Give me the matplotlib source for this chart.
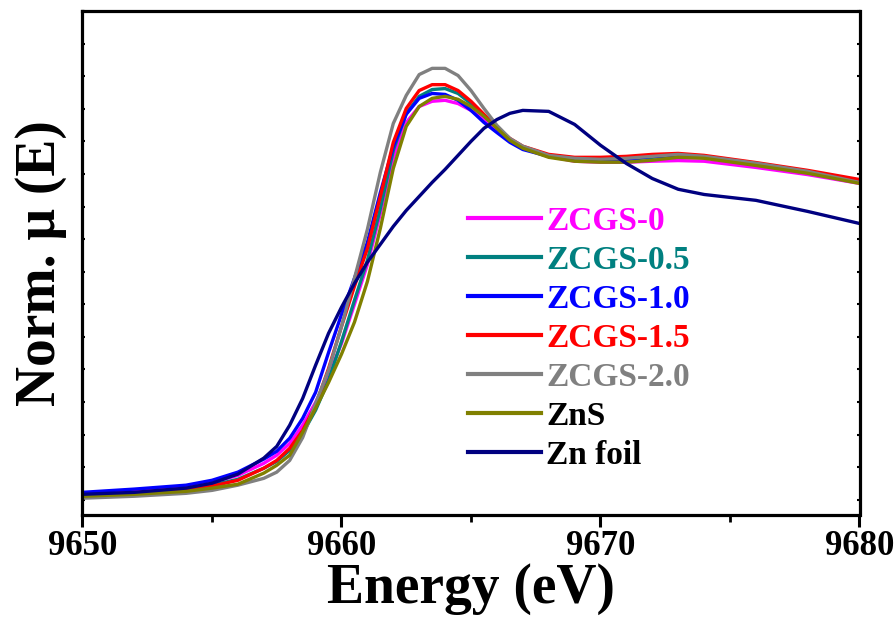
import matplotlib
matplotlib.use("Agg")
import matplotlib.pyplot as plt
from matplotlib.ticker import MultipleLocator, NullFormatter

plt.rcParams['font.family'] = ['Liberation Serif', 'DejaVu Serif']
plt.rcParams['font.weight'] = 'bold'

energy = [9650, 9652, 9654, 9655, 9656, 9657, 9657.5, 9658, 9658.5, 9659, 9659.5,
          9660, 9660.5, 9661, 9661.5, 9662, 9662.5, 9663, 9663.5, 9664, 9664.5,
          9665, 9665.5, 9666, 9666.5, 9667, 9668, 9669, 9670, 9671, 9672, 9673,
          9674, 9676, 9678, 9680]

zcgs_0 = [0.020, 0.029, 0.042, 0.054, 0.075, 0.112, 0.137, 0.173, 0.229, 0.299, 0.382,
          0.480, 0.600, 0.722, 0.879, 1.048, 1.158, 1.207, 1.223, 1.226, 1.216,
          1.195, 1.167, 1.137, 1.103, 1.079, 1.054, 1.039, 1.036, 1.036, 1.039, 1.041,
          1.039, 1.020, 0.998, 0.971]
zcgs_05 = [0.014, 0.020, 0.033, 0.045, 0.063, 0.097, 0.118, 0.152, 0.204, 0.275, 0.367,
           0.486, 0.612, 0.735, 0.894, 1.072, 1.186, 1.238, 1.259, 1.262, 1.247,
           1.216, 1.179, 1.143, 1.106, 1.082, 1.057, 1.045, 1.041, 1.045, 1.051, 1.057,
           1.051, 1.029, 1.005, 0.974]
zcgs_10 = [0.023, 0.033, 0.045, 0.060, 0.085, 0.125, 0.149, 0.189, 0.250, 0.330, 0.452,
           0.569, 0.680, 0.790, 0.943, 1.084, 1.183, 1.232, 1.247, 1.244, 1.226,
           1.195, 1.158, 1.127, 1.097, 1.075, 1.054, 1.045, 1.041, 1.045, 1.054, 1.057,
           1.051, 1.029, 1.008, 0.980]
zcgs_15 = [0.008, 0.017, 0.029, 0.042, 0.060, 0.097, 0.121, 0.158, 0.213, 0.290, 0.403,
           0.532, 0.655, 0.771, 0.931, 1.097, 1.201, 1.256, 1.274, 1.274, 1.256,
           1.223, 1.183, 1.143, 1.109, 1.085, 1.060, 1.051, 1.051, 1.054, 1.060, 1.063,
           1.057, 1.035, 1.011, 0.983]
zcgs_20 = [0.005, 0.011, 0.020, 0.029, 0.045, 0.066, 0.085, 0.121, 0.191, 0.296, 0.398,
           0.532, 0.680, 0.830, 1.005, 1.155, 1.241, 1.305, 1.324, 1.324, 1.302,
           1.256, 1.201, 1.149, 1.109, 1.085, 1.057, 1.048, 1.045, 1.048, 1.054, 1.060,
           1.054, 1.033, 1.008, 0.974]
zns = [0.011, 0.017, 0.026, 0.036, 0.048, 0.082, 0.106, 0.137, 0.207, 0.281, 0.360,
       0.447, 0.545, 0.670, 0.833, 1.017, 1.146, 1.207, 1.232, 1.238, 1.229,
       1.207, 1.177, 1.140, 1.103, 1.079, 1.051, 1.039, 1.036, 1.036, 1.042, 1.051,
       1.048, 1.026, 1.002, 0.971]
zn_foil = [0.017, 0.023, 0.036, 0.051, 0.079, 0.128, 0.164, 0.229, 0.311, 0.413, 0.511,
           0.591, 0.664, 0.729, 0.784, 0.839, 0.888, 0.931, 0.974, 1.014, 1.057,
           1.100, 1.140, 1.167, 1.186, 1.195, 1.192, 1.152, 1.088, 1.032, 0.986, 0.953,
           0.937, 0.919, 0.885, 0.848]

labels = ['ZCGS-0', 'ZCGS-0.5', 'ZCGS-1.0', 'ZCGS-1.5', 'ZCGS-2.0', 'ZnS', 'Zn foil']
series = [zcgs_0, zcgs_05, zcgs_10, zcgs_15, zcgs_20, zns, zn_foil]
colors = ['#FF00FF', '#008080', '#0000FF', '#FF0000', '#808080', '#808000', '#000080']
label_colors = ['#FF00FF', '#008080', '#0000FF', '#FF0000', '#808080', 'black', 'black']

fig = plt.figure(figsize=(8.95, 6.19), dpi=100)
ax = fig.add_axes([82.5 / 895, 1 - 514.5 / 619, 777 / 895, 503.5 / 619])

for y, c, lab in zip(series, colors, labels):
    ax.plot(energy, y, color=c, lw=2.4, label=lab, solid_joinstyle='round')

ax.set_xlim(9650, 9680)
ax.set_ylim(-0.045, 1.5)

for s in ax.spines.values():
    s.set_linewidth(2.3)

ax.xaxis.set_major_locator(MultipleLocator(10))
ax.xaxis.set_minor_locator(MultipleLocator(5))
ax.tick_params(axis='x', which='major', direction='out', length=8.5, width=2.2,
               labelsize=25, pad=3, top=False)
ax.tick_params(axis='x', which='minor', direction='out', length=5, width=2.0, top=False)
ax.yaxis.set_major_locator(MultipleLocator(0.1))
ax.yaxis.set_major_formatter(NullFormatter())
ax.tick_params(axis='y', which='major', direction='in', length=2.5, width=1.5,
               left=True, right=True)
for t in ax.get_xticklabels():
    t.set_fontweight('bold')

ax.set_xlabel('Energy (eV)', fontsize=40, fontweight='bold', labelpad=0)
ax.set_ylabel('Norm. μ (E)', fontsize=40, fontweight='bold', labelpad=8)

leg = ax.legend(loc='upper left', bbox_to_anchor=(468 / 895, 1 - 206 / 619),
                bbox_transform=fig.transFigure, frameon=False,
                handlelength=2.2, handletextpad=0.15, labelspacing=0.24,
                borderpad=0, borderaxespad=0, prop={'weight': 'bold', 'size': 24})
for t, c in zip(leg.get_texts(), label_colors):
    t.set_color(c)
for h in leg.get_lines():
    h.set_linewidth(3.0)

fig.savefig('out.png', dpi=100)
